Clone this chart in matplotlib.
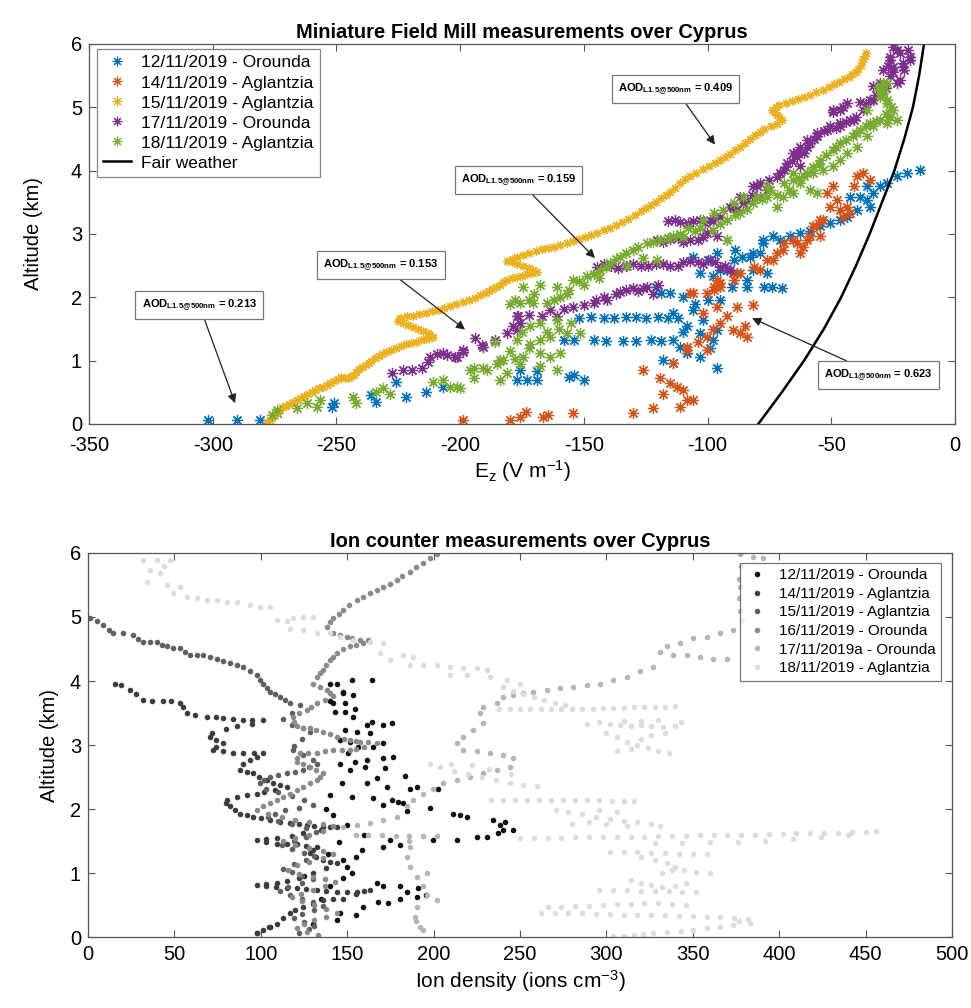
import numpy as np
import matplotlib
matplotlib.use("Agg")
import matplotlib.pyplot as plt
from matplotlib.lines import Line2D

plt.rcParams['font.family'] = ['Liberation Sans', 'DejaVu Sans']
plt.rcParams['mathtext.fontset'] = 'custom'
plt.rcParams['mathtext.rm'] = 'Liberation Sans'
plt.rcParams['mathtext.bf'] = 'Liberation Sans:bold'
plt.rcParams['mathtext.it'] = 'Liberation Sans:italic'
plt.rcParams['axes.unicode_minus'] = False

# ---------------- Field mill data (E_z [V/m], altitude [km]) ----------------
fm_labels = ["12/11/2019 - Orounda", "14/11/2019 - Aglantzia", "15/11/2019 - Aglantzia",
             "17/11/2019 - Orounda", "18/11/2019 - Aglantzia"]
fm_colors = ["#0072BD", "#D95319", "#EDB120", "#7E2F8E", "#77AC30"]

fm_1211 = [(-302,0.06),(-290,0.06),(-281,0.06),(-274,0.17),(-252,0.27),(-251,0.33),(-236,0.46),(-234,0.35),
    (-226,0.66),(-222,0.43),(-214,0.51),(-207,0.58),(-177,0.69),(-173,0.69),(-169,0.69),(-176,0.85),(-169,0.83),
    (-154,0.77),(-150,0.69),(-156,0.74),
    (-158,1.33),(-154,1.33),(-146,1.33),(-141,1.31),(-134,1.31),(-129,1.31),(-123,1.32),(-119,1.31),(-114,1.33),
    (-152,1.68),(-147,1.69),(-142,1.68),(-138,1.68),(-133,1.69),(-129,1.69),(-125,1.68),(-120,1.69),(-116,1.68),(-112,1.67),
    (-118,1.01),(-114,0.96),(-108.5,1.12),(-103,1.06),(-96,0.88),(-98,1.33),(-103,1.43),(-96,1.48),(-108.5,1.54),
    (-114,1.75),(-106,1.80),(-102,1.64),(-100,1.96),(-95,1.96),(-110,2.01),(-115,2.06),(-119,2.06),(-121,2.17),
    (-90,2.16),(-84,2.16),(-77,2.16),(-74,2.17),(-70,2.15),(-89,2.75),(-86,2.64),(-81.5,2.70),(-77.5,2.91),
    (-73.5,2.96),(-92,2.43),(-98,2.33),(-103,2.38),(-81.5,2.43),(-100,2.59),(-96,2.70),(-106,2.64),(-88,2.38),
    (-95,2.43),(-84,2.27),(-76,2.38),(-111,1.22),(-99,1.2),(-105,1.9),(-110,1.45),
    (-66.6,2.96),(-62.6,3.01),(-58.5,3.04),(-54.5,3.12),(-50.5,3.17),(-46.4,3.22),(-43.7,3.27),(-39.7,3.38),
    (-34.3,3.43),(-35.7,3.54),(-38.3,3.59),(-33,3.64),(-30.3,3.75),(-27.6,3.80),(-23.5,3.91),(-19.5,3.96),
    (-14.1,4.01),(-42.4,3.59),(-35.7,3.75),(-78.8,2.7),(-82.8,2.64),(-89.5,2.59),(-70.7,2.91),(-77.4,2.85)]

fm_1411 = [(-198.7,0.06),(-180,0.06),(-175.8,0.11),(-173.2,0.19),(-166.4,0.11),(-164.4,0.14),(-154.3,0.17),
    (-130,0.17),(-122,0.25),(-118,0.48),(-115.2,0.64),(-112.5,0.59),(-109.8,0.54),(-108.5,0.38),(-111.2,0.27),
    (-105.8,0.38),(-126,0.85),(-119.2,0.72),(-113.9,0.96),(-108.5,1.17),(-100.3,1.17),(-108.5,1.22),(-100.4,1.38),
    (-95,1.59),(-89.6,1.48),(-86.9,1.43),(-84.2,1.38),(-88.3,1.85),(-81.5,1.88),(-96.3,1.85),(-100.4,2.06),
    (-107.1,2.06),(-96.3,2.27),(-89.6,2.38),(-95,2.17),(-105.7,2.06),(-97.6,2.17),(-102,1.75),(-92,1.7),(-98,1.5),
    (-104,1.3),(-85,1.55),
    (-78.8,2.43),(-73.5,2.59),(-69.4,2.75),(-65.4,2.91),(-61.3,2.8),(-58.6,2.96),(-56,3.12),(-53.3,3.22),
    (-57.2,3.12),(-54.5,2.96),(-59.9,2.91),(-63.9,2.85),(-69.3,2.85),(-72,2.7),(-62.6,2.7),(-76.1,2.59),
    (-81.4,2.48),(-86.8,2.38),(-89.5,2.27),(-94.9,2.22),(-97.6,2.12),
    (-39.7,3.91),(-37,3.96),(-34.3,3.85),(-41,3.75),(-49.1,3.75),(-51.8,3.64),(-47.8,3.54),(-50.5,3.43),
    (-46.4,3.38),(-43.7,3.43),(-45.1,3.27),(-42.4,3.33),(-54.5,3.22)]

fm_1511 = [(-278,0.03),(-277,0.07),(-276,0.1),(-275,0.14),(-274,0.18),(-273,0.22),(-272,0.26),(-270.5,0.29),
    (-269,0.32),(-267.5,0.35),(-266,0.38),(-264.5,0.41),(-263,0.44),(-261.5,0.47),(-260,0.5),(-258.5,0.53),
    (-257,0.56),(-255.5,0.59),(-254,0.62),(-252.5,0.65),(-251,0.68),(-249.5,0.71),(-248,0.74),(-246.5,0.73),
    (-245,0.72),(-244,0.75),(-243,0.78),(-242,0.82),(-241,0.86),(-239.5,0.9),(-238,0.93),(-237,0.97),(-236,1.0),
    (-234.5,1.04),(-233,1.07),(-231.5,1.11),(-230,1.14),(-228,1.17),(-226,1.2),(-224,1.23),(-222,1.26),(-220,1.28),
    (-218,1.3),(-216,1.32),(-214,1.34),(-212.5,1.36),(-211,1.38),(-212,1.41),(-213,1.44),(-215,1.47),(-217,1.5),
    (-219,1.53),(-221,1.56),(-223,1.59),(-225,1.62),(-224.5,1.65),(-224,1.68),(-221.5,1.7),(-219,1.71),
    (-216.5,1.73),(-214,1.75),(-211.5,1.78),(-209,1.8),(-206.5,1.83),(-204,1.86),(-201.5,1.89),(-199,1.92),
    (-196.5,1.96),(-194,1.99),(-192,2.03),(-190,2.06),(-188.5,2.1),(-187,2.13),(-185.5,2.17),(-184,2.2),
    (-182.5,2.24),(-181,2.27),(-179,2.3),(-177,2.32),(-175,2.34),(-173,2.36),(-171,2.38),(-169,2.4),(-170.5,2.43),
    (-172,2.46),(-174.5,2.49),(-177,2.52),(-179,2.55),(-181,2.58),(-179,2.61),(-177,2.64),(-174.5,2.67),(-172,2.7),
    (-169.5,2.73),(-167,2.76),(-164.5,2.78),(-162,2.8),(-159.5,2.83),(-157,2.86),(-154.5,2.89),(-152,2.92),
    (-149.5,2.95),(-147,2.98),(-144.5,3.02),(-142,3.06),(-139.5,3.1),(-137,3.14),(-134.5,3.19),(-132,3.24),
    (-129.5,3.3),(-127,3.36),(-125,3.41),(-123,3.46),(-121,3.51),(-119,3.56),(-117,3.61),(-115,3.66),(-113,3.73),
    (-111,3.8),(-109,3.86),(-107,3.92),(-104.5,3.97),(-102,4.02),(-99.5,4.07),(-97,4.12),(-95,4.17),(-93,4.22),
    (-91,4.27),(-89,4.32),(-87,4.38),(-85,4.44),(-83,4.5),(-81,4.56),(-79,4.61),(-77,4.66),(-74.5,4.7),(-72,4.74),
    (-70,4.8),(-71,4.84),(-72,4.88),(-73,4.92),(-74,4.96),(-72.5,5.0),(-71,5.04),(-68.5,5.07),(-66,5.1),
    (-63.5,5.13),(-61,5.16),(-58.5,5.2),(-56,5.24),(-53.5,5.28),(-51,5.32),(-49,5.36),(-47,5.4),(-45,5.44),
    (-43,5.48),(-41.5,5.52),(-40,5.56),(-39,5.61),(-38,5.66),(-37.5,5.71),(-37,5.76),(-36.5,5.81),(-36,5.86)]

fm_1711 = [(-227.7,0.8),(-223,0.85),(-219.6,0.85),(-215.6,0.88),(-212.8,0.98),(-212.2,1.06),(-209.5,1.11),
    (-205.5,1.09),(-201.4,1.06),(-198.7,1.17),(-194.1,1.35),(-191.3,1.25),(-185.9,1.33),(-181.2,1.43),(-178.5,1.54),
    (-176.5,1.7),(-175.8,1.6),(-177,1.49),(-206.8,1.12),(-198.7,1.14),(-202,1.06),(-190.6,1.22),
    (-177,1.7),(-172,1.72),(-167,1.7),(-161,1.7),
    (-163.6,1.8),(-154.2,1.85),(-146.1,1.91),(-140.7,1.96),(-135.4,2.09),(-130,2.14),(-124.6,2.17),(-142,2.0),
    (-137,2.05),(-128,2.1),(-122,2.05),(-145,1.95),(-133,2.12),(-126,2.15),(-120,2.2),(-150,1.88),(-158,1.82),
    (-144.8,2.48),(-139,2.5),(-133,2.49),(-127,2.5),(-121,2.52),(-115,2.5),(-110,2.55),(-104,2.55),(-99,2.59),
    (-95,2.48),(-90.9,2.43),(-142,2.52),(-136,2.47),(-130,2.52),(-124,2.49),(-118,2.53),(-112,2.5),(-107,2.57),
    (-102,2.52),(-97,2.55),(-93,2.5),
    (-120.6,2.9),(-115,2.92),(-110,2.88),(-104,2.9),(-100.3,3.01),(-96.3,2.96),(-118,2.88),(-112,2.93),(-107,2.9),
    (-102,2.95),
    (-115.9,3.2),(-111,3.19),(-106,3.2),(-101,3.18),(-97.7,3.2),(-99,3.22),(-94.9,3.27),(-113,3.22),(-108,3.18),
    (-103,3.22),
    (-90.9,3.43),(-88.2,3.38),(-85.5,3.49),(-89.6,3.43),(-86.9,3.59),(-81.5,3.75),(-78.8,3.8),(-80.1,3.75),
    (-76.1,3.7),(-78.8,3.59),(-70.7,3.96),(-69.3,4.01),(-68.1,4.06),(-68,4.12),(-62.6,4.07),(-65.4,4.28),
    (-63.9,4.22),(-61.2,4.28),(-62.7,4.38),(-58.6,4.43),(-59.9,4.38),(-60,4.49),(-55.9,4.54),(-55.9,4.59),
    (-51.8,4.64),(-50.6,4.7),(-46.4,4.7),(-46.5,4.75),(-42.5,4.8),(-41,4.8),(-49.1,4.93),(-46.4,4.96),
    (-49.2,4.96),(-45.2,5.01),(-43.7,5.07),(-38.3,5.09),(-34.3,5.12),(-33,5.12),(-30.3,5.28),(-33,5.33),
    (-30.3,5.38),(-23.5,5.38),(-26.2,5.49),(-22.3,5.43),(-20.8,5.59),(-24.9,5.64),(-29,5.59),(-26.3,5.75),
    (-18.1,5.75),(-22.2,5.86),(-26.2,5.8),(-23.6,5.91),(-18.2,5.8),(-20.9,5.64),
    (-84,3.52),(-82,3.62),(-75,3.85),(-72,3.9),(-66,4.15),(-64,4.3),(-57,4.5),(-53,4.62),(-48,4.68),(-44,4.76),
    (-40,4.85),(-37,4.95),(-36,5.05),(-32,5.2),(-28,5.3),(-25,5.55),(-21,5.7),(-19,5.9),(-25,5.95),(-27,5.65)]

fm_1811 = [(-276.2,0.14),(-274.2,0.22),(-266.1,0.25),(-262.1,0.33),(-258,0.27),(-256.7,0.38),(-243.2,0.43),
    (-241.9,0.33),(-231,0.56),(-228.4,0.48),(-234,0.5),(-210.9,0.67),(-206.8,0.69),(-201.4,0.59),(-204,0.59),
    (-200,0.56),(-196,0.85),(-190.6,0.88),(-183.9,0.69),(-182.6,1.01),
    (-194.6,0.88),(-194.6,0.72),(-189.2,0.85),(-183.9,1.01),(-181.2,0.8),(-174.4,1.06),(-167.7,1.12),(-163.6,1.06),
    (-159.6,1.12),(-167.7,0.91),(-161,0.85),(-178,1.03),
    (-177.1,1.33),(-171.7,1.27),(-167.7,1.33),(-163.6,1.38),(-156.9,1.43),(-151.5,1.43),(-171.7,1.54),
    (-167.7,1.59),(-161,1.64),(-155,1.6),
    (-175.8,1.91),(-170.4,1.91),(-165,1.91),(-159.6,2.01),(-174.4,2.17),(-167.7,2.2),(-161,2.17),(-154.2,2.27),
    (-148.8,2.33),(-143.5,2.43),(-139.4,2.54),(-135.4,2.64),(-130,2.75),(-124.6,2.85),(-119.2,2.91),(-113.8,2.96),
    (-120.5,2.59),(-132.7,2.49),(-126,2.62),(-144,2.3),(-150,2.2),(-156,2.12),(-170,2.05),(-178,1.95),
    (-97.7,3.06),(-92.3,2.91),(-92.3,3.22),(-86.9,3.33),(-81.5,3.49),(-76.1,3.59),(-69.4,3.59),(-65.4,3.64),
    (-62.7,3.8),(-60,3.96),(-57.3,4.06),(-54.6,4.17),(-49.2,4.33),(-46.5,4.43),(-41.1,4.54),(-38.4,4.64),
    (-34.4,4.75),(-30.3,4.8),(-26.3,4.85),(-24.9,4.96),(-27.6,5.12),(-30.3,5.28),(-29,5.38),(-76.1,3.75),
    (-65.4,3.85),(-27.6,5.38),(-28.9,5.28),(-30.3,5.17),(-27.6,5.07),(-23.5,4.8),(-27.6,4.75),(-33,4.7),
    (-35.7,4.54),(-39.7,4.38),(-43.7,4.28),(-46.4,4.17),(-49.1,4.07),(-53.2,4.01),(-57.2,3.96),(-61.2,3.91),
    (-65.3,3.96),(-58.5,3.7),(-55.9,3.64),(-69.3,3.8),(-74.7,3.7),(-80.1,3.59),(-85.5,3.59),(-89.5,3.49),
    (-93.6,3.38),(-97.6,3.33),(-101.7,3.22),(-72,3.43),(-92.2,2.91),(-35.7,4.96),(-105,3.05),(-110,2.95),(-108,3.1),
    (-180,1.9),(-172,1.95),(-162,1.95),(-157,2.05),(-152,2.25),(-146,2.37),(-141,2.48),(-137,2.6),(-133,2.7),
    (-128,2.8),(-122,2.88),(-116,2.93),(-111,3.0),(-103,3.1),(-95,3.15),(-89,3.3),(-84,3.4),(-78,3.55),(-72,3.62),
    (-67,3.7),(-63,3.88),(-58,4.0),(-55,4.1),(-52,4.25),(-48,4.38),(-44,4.48),(-40,4.6),(-36,4.7),(-32,4.78),
    (-28,4.9),(-26,5.0),(-29,5.22),(-31,5.32),(-165,1.45),(-160,1.5),(-175,1.45),(-186,1.3),(-172,1.2),(-180,1.15),
    (-185,0.95),(-176,0.95)]

fair_alt = [0, 0.5, 1.0, 1.5, 2.0, 2.5, 3.0, 3.5, 4.0, 4.5, 5.0, 5.5, 6.0]
fair_E = [-79.5, -70.0, -61.0, -53.0, -46.0, -40.0, -34.5, -29.5, -24.5, -20.5, -17.0, -14.5, -12.5]

# annotation: subscript, value, box centre (E, alt), arrow tip (E, alt)
aod_sub = ["L1.5@500nm", "L1.5@500nm", "L1.5@500nm", "L1.5@500nm", "L1@500nm"]
aod_val = ["0.213", "0.153", "0.159", "0.409", "0.623"]
aod_box = [(-305.5, 1.88), (-232, 2.51), (-176.6, 3.85), (-113, 5.29), (-31, 0.77)]
aod_tip = [(-291, 0.33), (-198, 1.49), (-145.5, 2.62), (-97, 4.41), (-82, 1.67)]

# ---------------- Ion counter data (ions/cm3, altitude [km]) ----------------
ic_labels = ["12/11/2019 - Orounda", "14/11/2019 - Aglantzia", "15/11/2019 - Aglantzia",
             "16/11/2019 - Orounda", "17/11/2019a - Orounda", "18/11/2019 - Aglantzia"]
ic_colors = ["#111111", "#3d3d3d", "#606060", "#8a8a8a", "#b5b5b5", "#dcdcdc"]

ic_1211 = [(140,3.96),(143.9,3.96),(152.6,4.02),(164.2,4.02),(147.8,3.83),(153.6,3.78),(140,3.68),(148.7,3.65),
    (142.9,3.52),(148.7,3.52),(154.5,3.57),(153.6,3.44),(161.3,3.31),(164.2,3.36),(170.9,3.31),(175.7,3.34),
    (148.7,3.23),(155.5,3.21),(163.2,3.18),(145.8,3.08),(151.6,3.05),(156.4,2.97),(165.1,2.97),(170.9,3.03),
    (150.7,2.87),(161.3,2.77),(154.5,2.74),(170.9,2.79),(176.7,2.82),(145.8,2.71),(160.3,2.66),(167.1,2.48),
    (171.9,2.64),(151.6,2.61),(161.3,2.4),(172.8,2.35),(183.4,2.51),(186.3,2.32),(190.2,2.35),(146.8,2.4),
    (140,2.22),(152.6,2.19),(165.1,2.17),(170.9,2.06),(175.7,2.14),(179.6,2.11),(182.5,2.09),(202.7,2.32),
    (197.9,2.01),(211.4,1.93),(215.3,1.91),(219.1,1.88),(234.6,1.83),(238.4,1.75),(241.3,1.8),(240.4,1.67),
    (246.1,1.67),(237.5,1.62),(230.7,1.57),(224.9,1.57),(213.3,1.52),(199.5,1.51),(180.6,1.44),(184.5,1.97),
    (147.8,3.81),(142,3.65),(174.8,1.52),(170.9,1.41),(158.4,1.36),(147.8,1.2),(149.7,1.1),(147.8,0.92),
    (152.6,1.0),(159.3,0.47),(167.1,0.84),(170.9,0.79),(168,0.55),(173.8,0.53),(180.6,0.6),(145.8,0.37),
    (143.9,0.27),(97.6,0.06),(105.3,0.16),(180.6,0.79),(184.5,0.71),(191.2,0.76),(190.2,0.63),(195.6,0.66),
    (139,1.3),(155,1.25),(145,1.48),(160,1.6),(150,1.75),(142,1.9),(138,2.0),(155,0.35),(135,0.6),(140,0.8),
    (130,0.2),(125,0.95)]

ic_1411 = [(15.6,3.96),(19,3.93),(24.3,3.86),(28,3.8),(32,3.7),(37,3.69),(43.6,3.68),(48,3.68),(53.2,3.65),
    (55,3.6),(57.1,3.5),(62,3.47),(68.7,3.44),(74,3.43),(78.3,3.42),(84,3.4),(89.9,3.39),(95,3.39),(101.5,3.39),
    (95,3.33),(86,3.29),(80,3.25),(72,3.18),(70.6,3.13),(74,3.08),(78.3,3.03),(74,2.97),(72.5,2.92),(78,2.9),
    (84.1,2.87),(90,2.87),(96,2.87),(101.5,2.87),(98,2.82),(93.8,2.77),(90,2.7),(88,2.61),(92,2.58),(95.7,2.56),
    (99,2.5),(103.4,2.45),(107,2.41),(111.1,2.37),(115,2.35),(108,2.3),(102,2.26),(97.6,2.24),(92,2.22),(86,2.19),
    (80.2,2.14),(80,2.09),(82.2,2.04),(85,1.98),(88,1.93),(92,1.9),(95.7,1.88),(100,1.86),(105.3,1.83),(111,1.8),
    (116.9,1.78),(122,1.76),(126.5,1.75),(131,1.74),(136.2,1.72),(140,1.72),(143.9,1.72),(135,1.67),(124.6,1.62),
    (118,1.58),(109.2,1.54),(103,1.53),(97.6,1.52),(103,1.49),(109.2,1.46),(115,1.46),(120.8,1.46),(126,1.43),
    (132.3,1.41),(130,1.36),(128.5,1.31),(132,1.25),(136.2,1.2),(140,1.17),(143.9,1.15),(138,1.08),(130,1.0),
    (122,0.93),(115,0.88),(109.2,0.84),(103,0.83),(97.6,0.81),(103,0.79),(109,0.78),(115,0.77),(120.8,0.76),
    (126,0.75),(132.3,0.73),(138,0.72),(143.9,0.71),(150,0.71),(155.5,0.71),(160,0.72),(163.2,0.73),(155,0.67),
    (147.8,0.6),(142,0.59),(136.2,0.58),(130,0.52),(124.6,0.47),(120,0.42),(116.9,0.37),(113,0.29),(109.2,0.21),
    (105,0.16),(101.5,0.11),(97.6,0.06)]

ic_1511 = [(1.2,4.98),(5,4.93),(8.9,4.87),(12,4.8),(14.7,4.75),(20.5,4.75),(26.2,4.72),(29,4.66),(32,4.61),
    (36,4.61),(39.7,4.61),(43,4.57),(45.5,4.54),(49,4.52),(53.2,4.51),(56,4.46),(59,4.41),(63,4.41),(66.7,4.41),
    (70.5,4.38),(74.5,4.35),(78.3,4.31),(82.2,4.28),(86,4.25),(89.9,4.22),(94,4.16),(97.6,4.09),(99.5,4.02),
    (101.5,3.96),(103.5,3.89),(105.3,3.83),(108,3.79),(111.1,3.75),(114,3.7),(116.9,3.65),(122.7,3.63),(118,3.5),
    (113,3.4),(118,3.32),(124.6,3.26),(128.5,3.21),(124,3.1),(119,2.98),(118.8,2.92),(124.6,2.84),(130,2.77),
    (132.3,2.71),(128,2.66),(124.6,2.61),(120,2.58),(115,2.56),(110,2.53),(105.3,2.5),(102,2.45),(99.5,2.4),
    (103,2.32),(110,2.26),(118,2.2),(125,2.14),(130,2.07),(122,2.02),(114,1.98),(108,1.93),(104,1.87),(110,1.82),
    (118,1.76),(126,1.7),(132,1.64),(126,1.57),(119,1.5),(112,1.44),(118,1.38),(125,1.32),(131,1.26),(126,1.2),
    (119,1.14),(113,1.07),(118,1.01),(124,0.95),(130,0.9),(124,0.84),(116,0.78),(111,0.72),(117,0.66),(124,0.6),
    (130,0.54),(136,0.48),(131,0.42),(124,0.36),(119,0.3),(125,0.24),(131,0.18),(128,0.12),(122,0.06)]

ic_1611 = [(201.8,5.99),(198,5.92),(194,5.84),(190,5.78),(186.3,5.71),(182,5.64),(178.6,5.58),(175,5.52),
    (170.9,5.47),(167,5.42),(163.2,5.37),(159,5.32),(155.5,5.27),(151,5.19),(147.8,5.11),(145,5.05),(142,4.98),
    (140,4.92),(138.1,4.85),(142,4.75),(146,4.72),(149.7,4.69),(153,4.67),(157.4,4.64),(162.2,4.64),(159.3,4.59),
    (155,4.56),(151.6,4.54),(147.5,4.5),(143.9,4.43),(142,4.38),(140,4.33),(138,4.25),(136.2,4.17),(134,4.12),
    (132.3,4.07),(130.4,3.96),(134,3.9),(138.1,3.86),(140,3.81),(142,3.76),(137,3.7),(132.3,3.65),(129,3.6),
    (126.5,3.55),(122,3.5),(118.8,3.44),(119,3.36),(120.8,3.29),(124.6,3.27),(128.5,3.26),(132,3.24),(136.2,3.21),
    (140,3.17),(143.9,3.13),(148,3.1),(151.6,3.08),(155,3.06),(157.4,3.05),(162,3.04),(167.1,3.03),(160,2.97),
    (155,2.94),(151.6,2.92),(146.8,2.92),(142,2.92),(137,2.9),(132.3,2.87),(127.5,2.87),(122.7,2.87),(121,2.8),
    (120.8,2.74),(124.6,2.7),(128.5,2.66),(132,2.61),(136.2,2.56),(134,2.5),(132.3,2.45),(128.5,2.4),(124.6,2.35),
    (120.8,2.3),(116.9,2.24),(113,2.19),(109.2,2.14),(105.3,2.09),(101.5,2.04),(98,1.98),(104,1.92),(112,1.87),
    (120,1.83),(128,1.8),(136,1.77),(142,1.73),(136,1.66),(128,1.6),(120,1.55),(113,1.5),(120,1.44),(128,1.39),
    (136,1.35),(142,1.3),(136,1.24),(128,1.18),(121,1.12),(116,1.05),(122,0.99),(130,0.94),(137,0.9),(143,0.86),
    (137,0.8),(130,0.74),(123,0.68),(118,0.62),(124,0.56),(131,0.5),(138,0.44),(144,0.38),(138,0.32),(131,0.26),
    (125,0.2),(121,0.14),(127,0.08),(133,0.03)]

ic_1711 = [(390.8,5.92),(385,5.94),(377.3,5.99),(378,5.8),(377,5.6),(377.3,5.47),(377,5.3),(377.5,5.1),
    (378.3,4.95),(373.4,4.8),(365.7,4.75),(358,4.69),(350.3,4.67),(342.6,4.59),(334.9,4.54),(331,4.46),
    (338.7,4.41),(346.4,4.41),(354.1,4.38),(361.9,4.35),(369.6,4.35),(327.1,4.22),(319.4,4.15),(311.7,4.07),
    (304,4.02),(296.3,3.96),(288.6,3.94),(280.8,3.91),(273.1,3.89),(265.4,3.86),(257.7,3.83),(251.9,3.81),
    (246.1,3.78),(240.4,3.75),(236.5,3.65),(228.8,3.6),(226.9,3.5),(228.8,3.34),(223,3.23),(217.2,3.13),
    (213.3,3.03),(217.2,2.92),(224.9,2.9),(232.6,2.87),(240.4,2.84),(246.1,2.79),(244.2,2.66),(236.5,2.61),
    (228.8,2.56),(221.1,2.5),(213.3,2.45),(205.6,2.4),(199.9,2.32),(194,2.24),(188.3,2.14),(184.4,2.04),
    (178.6,1.88),(170.9,1.83),(163.2,1.78),(155.5,1.75),(147.8,1.72),(155,1.6),(162,1.6),(170,1.59),(178,1.58),
    (186,1.58),(194,1.58),(202,1.58),(186.3,1.41),(184.4,1.25),(186.3,1.1),(190.2,0.94),(194.1,0.79),
    (201.8,0.58),(196,0.65),(190.2,0.47),(189.2,0.32),(192.1,0.16),(194.1,0.11),(190,0.25),(186,1.5),(196,1.0)]

ic_1811 = [(32,5.89),(39.7,5.89),(47.5,5.89),(35.9,5.73),(41.7,5.68),(44,5.8),(34,5.55),(45.5,5.5),(53.2,5.47),
    (49.4,5.37),(57.1,5.32),(62.9,5.29),(68.7,5.27),(74.5,5.27),(80.3,5.24),(86,5.24),(93.8,5.19),(99.5,5.16),
    (105.3,5.16),(109.2,4.95),(115,4.93),(118.8,4.98),(124.6,5.0),(130.4,5.0),(116.9,4.82),(124.6,4.8),
    (132.3,4.75),(140,4.75),(145.8,4.69),(153.6,4.64),(163.2,4.61),(170.9,4.59),(169,4.43),(174.8,4.33),
    (182.5,4.41),(188.3,4.38),(186.3,4.25),(194,4.25),(201.8,4.25),(209.5,4.22),(217.2,4.2),(224.9,4.2),
    (230.7,4.17),(209.5,4.09),(219.1,4.09),(232.6,4.07),(242.3,4.02),(250,3.96),
    (240,3.9),(246,3.85),(252,3.8),(258,3.75),(264,3.7),(270,3.65),(276,3.62),
    (238,3.57),(244,3.57),(250,3.57),(256,3.56),(262,3.56),(268,3.56),(274,3.56),(280,3.57),(286,3.57),(292,3.57),
    (298,3.58),(304,3.58),(310,3.58),(316,3.59),(322,3.6),(328,3.6),(334,3.6),(340,3.61),
    (289,3.33),(296,3.36),(302,3.33),(308,3.31),(314,3.3),(320,3.32),(326,3.3),(333,3.28),(340,3.3),(343,3.36),
    (330,3.39),(320,3.38),(310,3.38),
    (300,3.18),(306,3.12),(312,3.05),(318,3.0),(324,2.95),(330,2.9),(336,2.88),(306,2.9),(314,2.93),(320,3.1),
    (326,3.15),(334,3.18),
    (198,2.71),(204,2.65),(212,2.6),(220,2.55),(228,2.5),(236,2.45),(244,2.4),(252,2.38),(260,2.36),(210,2.7),
    (222,2.68),(232,2.62),(245,2.55),
    (233,2.14),(240,2.14),(247,2.14),(254,2.14),(261,2.14),(268,2.14),(275,2.14),(282,2.14),(289,2.14),(296,2.14),
    (303,2.13),(310,2.13),(316,2.12),
    (271,1.98),(278,1.95),(286,1.92),(294,1.88),(302,1.85),(310,1.82),(318,1.79),(326,1.76),(331,1.73),(280,1.76),
    (290,1.8),(300,1.77),(312,1.74),(296,1.98),(306,1.95),
    (250,1.55),(258,1.55),(266,1.55),(274,1.55),(282,1.56),(290,1.56),(298,1.56),(306,1.57),(314,1.57),(322,1.57),
    (330,1.58),(338,1.58),(346,1.58),(354,1.59),(362,1.59),(370,1.6),(378,1.6),(386,1.6),(394,1.61),(402,1.61),
    (410,1.62),(418,1.62),(426,1.63),(434,1.63),(442,1.64),(450,1.64),(456,1.65),(440,1.6),(424,1.56),(408,1.53),
    (392,1.5),(376,1.49),(360,1.48),(344,1.47),(328,1.47),
    (302,1.33),(310,1.33),(318,1.33),(326,1.32),(334,1.31),(342,1.3),(350,1.3),(358,1.3),(320,1.25),(328,1.2),
    (335,1.15),(340,1.1),(345,1.05),(352,1.02),(360,1.0),(332,1.0),(338,1.05),
    (296,0.73),(304,0.73),(312,0.73),(320,0.72),(328,0.72),(336,0.72),(344,0.71),(352,0.71),(314,0.89),(320,0.85),
    (326,0.82),(332,0.78),(340,0.8),(346,0.84),
    (262,0.37),(270,0.37),(278,0.37),(286,0.37),(294,0.36),(302,0.36),(310,0.35),(318,0.35),(326,0.34),(334,0.34),
    (342,0.33),(350,0.33),(358,0.32),(366,0.31),(374,0.3),(382,0.28),(266,0.47),(274,0.47),(282,0.48),(290,0.49),
    (298,0.5),(306,0.51),(314,0.52),(322,0.53),(330,0.53),(338,0.52),(346,0.5),
    (350,0.11),(358,0.14),(366,0.16),(373,0.19),(377,0.25),(383,0.22),
    (304,0.01),(310,0.02),(316,0.03),(321,0.04),(327,0.06),(335,0.08),(343,0.09)]

fm_series = [fm_1211, fm_1411, fm_1511, fm_1711, fm_1811]
fm_msize = [8, 8, 6.5, 8, 8]
ic_series = [ic_1211, ic_1411, ic_1511, ic_1611, ic_1711, ic_1811]

# ---------------- Figure ----------------
fig = plt.figure(figsize=(9.71, 10.08), dpi=100)
ax1 = fig.add_axes([0.0917, 0.5794, 0.8918, 0.3770])
ax2 = fig.add_axes([0.0906, 0.0704, 0.8898, 0.3810])

def style_axes(ax, xpad):
    for s in ax.spines.values():
        s.set_color('#555555')
        s.set_linewidth(0.9)
    ax.tick_params(direction='in', length=5, width=0.8, color='#555555', top=True, right=True,
                   labelsize=14.5, labelcolor='black', pad=5)
    ax.tick_params(axis='x', pad=xpad)

ast = (8, 2, 0)
for pts, col, lab, ms in zip(fm_series, fm_colors, fm_labels, fm_msize):
    a = np.array(pts)
    ax1.plot(a[:, 0], a[:, 1], linestyle='none', marker=ast, ms=ms, mew=0.9,
             color=col, mec=col, label=lab)
ax1.plot(fair_E, fair_alt, color='black', lw=1.8, label='Fair weather')

ax1.set_xlim(-350, 0)
ax1.set_ylim(0, 6)
ax1.set_xticks(np.arange(-350, 1, 50))
ax1.set_yticks(np.arange(0, 7, 1))
style_axes(ax1, 9)
ax1.set_title('Miniature Field Mill measurements over Cyprus', fontsize=14.5, fontweight='bold', pad=4)
ax1.set_xlabel(r'E$_\mathregular{z}$ (V m$^\mathregular{-1}$)', fontsize=15, labelpad=2)
ax1.set_ylabel('Altitude (km)', fontsize=14.5, labelpad=20)

handles = [Line2D([], [], linestyle='none', marker=ast, ms=7, mew=0.8, color=c) for c in fm_colors]
handles.append(Line2D([], [], color='black', lw=1.8))
leg1 = ax1.legend(handles, fm_labels + ['Fair weather'], loc='upper left', bbox_to_anchor=(0.009, 0.986),
                  borderaxespad=0, fontsize=12.5, frameon=True, fancybox=False, edgecolor='#666666',
                  handlelength=1.6, handletextpad=0.6, labelspacing=0.28, borderpad=0.35)
leg1.get_frame().set_linewidth(0.9)

for sub, val, box, tip in zip(aod_sub, aod_val, aod_box, aod_tip):
    txt = r'$\mathbf{AOD}_{\mathbf{' + sub + r'}}$' + ' = ' + val
    ax1.annotate(txt, xy=tip, xytext=box, ha='center', va='center', fontsize=8, fontweight='bold',
                 bbox=dict(boxstyle='square,pad=0.55', fc='white', ec='#777777', lw=0.9),
                 arrowprops=dict(arrowstyle='-|>', color='#222222', lw=0.9, mutation_scale=13,
                                 shrinkA=0, shrinkB=0))

for pts, col, lab in zip(ic_series, ic_colors, ic_labels):
    a = np.array(pts)
    ax2.plot(a[:, 0], a[:, 1], linestyle='none', marker='o', ms=4, mew=0, color=col, label=lab)

ax2.set_xlim(0, 500)
ax2.set_ylim(0, 6)
ax2.set_xticks(np.arange(0, 501, 50))
ax2.set_yticks(np.arange(0, 7, 1))
style_axes(ax2, 6)
ax2.set_title('Ion counter measurements over Cyprus', fontsize=14.5, fontweight='bold', pad=4)
ax2.set_xlabel(r'Ion density (ions cm$^\mathregular{-3}$)', fontsize=15, labelpad=3)
ax2.set_ylabel('Altitude (km)', fontsize=14.5, labelpad=8)

handles2 = [Line2D([], [], linestyle='none', marker='o', ms=4, mew=0, color=c) for c in ic_colors]
leg2 = ax2.legend(handles2, ic_labels, loc='upper right', bbox_to_anchor=(0.987, 0.974), borderaxespad=0,
                  fontsize=11, frameon=True, fancybox=False, edgecolor='#555555',
                  handlelength=1.6, handletextpad=0.6, labelspacing=0.3, borderpad=0.35)
leg2.get_frame().set_linewidth(0.9)

fig.savefig('out.png', dpi=100)
